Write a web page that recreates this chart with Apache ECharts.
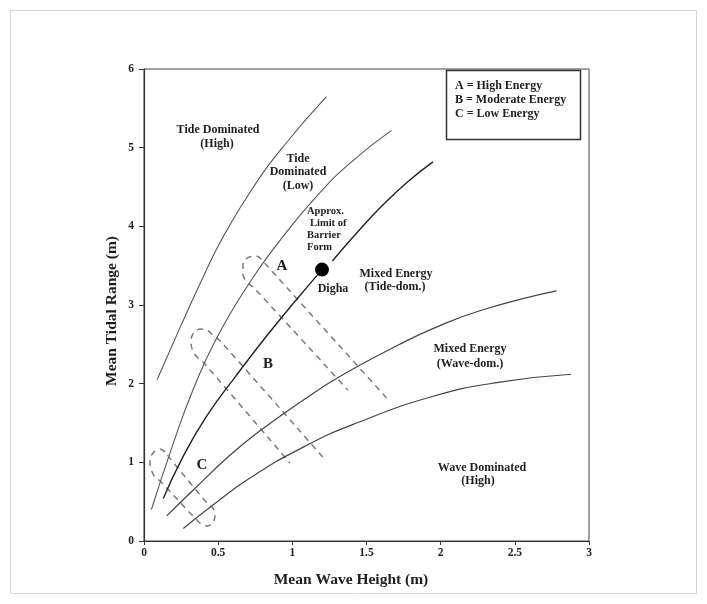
<!DOCTYPE html>
<html>
<head>
<meta charset="utf-8">
<script src="https://cdn.jsdelivr.net/npm/echarts/dist/echarts.min.js"></script>
<style>
html,body{margin:0;padding:0;background:#fff;}
#chart{width:707px;height:604px;}
</style>
</head>
<body>
<div id="chart"></div>
<script>
// ---- data (Mean Wave Height m, Mean Tidal Range m) ----
const xTicks = [0, 0.5, 1, 1.5, 2, 2.5, 3];
const yTicks = [0, 1, 2, 3, 4, 5, 6];

const curveTideHigh = [[0.088,2.05],[0.24,2.70],[0.38,3.28],[0.52,3.82],[0.72,4.45],[0.95,5.04],[1.23,5.65]];
const curveTideLow = [[0.05,0.40],[0.19,1.20],[0.33,1.92],[0.49,2.58],[0.714,3.29],[0.90,3.78],[1.163,4.38],[1.387,4.80],[1.668,5.22]];
const curveBarrierLower = [[0.13,0.54],[0.26,1.06],[0.42,1.58],[0.62,2.10],[0.82,2.59],[1.02,3.05],[1.20,3.45]];
const curveBarrierUpper = [[1.27,3.56],[1.45,3.95],[1.61,4.27],[1.78,4.57],[1.948,4.82]];
const curveMixed = [[0.153,0.32],[0.355,0.69],[0.579,1.09],[0.803,1.43],[1.05,1.76],[1.32,2.09],[1.724,2.50],[1.948,2.70],[2.285,2.94],[2.78,3.18]];
const curveWave = [[0.265,0.16],[0.467,0.46],[0.714,0.80],[1.08,1.20],[1.42,1.49],[1.95,1.84],[2.40,2.02],[2.88,2.12]];

const loopA = [[1.636,1.817],[0.85,3.456],[0.801,3.558],[0.761,3.621],[0.707,3.609],[0.667,3.507],[0.667,3.393],[0.694,3.291],[0.74,3.22],[1.374,1.919]];
const loopB = [[1.205,1.067],[0.51,2.55],[0.465,2.618],[0.424,2.681],[0.377,2.694],[0.330,2.630],[0.316,2.529],[0.330,2.414],[0.364,2.325],[0.41,2.25],[0.983,0.991]];
const loopC = [[0.141,1.131],[0.108,1.169],[0.067,1.131],[0.040,1.029],[0.047,0.915],[0.074,0.813],[0.11,0.76],[0.377,0.229],[0.418,0.191],[0.458,0.216],[0.478,0.318],[0.465,0.419],[0.43,0.47],[0.141,1.131]];

const digha = [[1.20,3.45]];

const legendLines = ['A = High Energy','B = Moderate Energy','C = Low Energy'];

// ---- chart ----
const FONT = '"Liberation Serif","DejaVu Serif",serif';
const chart = echarts.init(document.getElementById('chart'), null, {renderer:'canvas'});

function curve(data, color, width){
  return {type:'line', data:data, smooth:0.5, showSymbol:false, silent:true,
    lineStyle:{color:color, width:width}, z:3};
}
function loop(data){
  return {type:'line', data:data, smooth:0.35, showSymbol:false, silent:true,
    lineStyle:{color:'#7a7a7a', width:1.5, type:[6,5]}, z:2};
}
function txt(x,y,t,size,align){
  return {type:'text', x:x, y:y, silent:true, z:10,
    style:{text:t, font:'bold '+size+'px '+FONT, fill:'#1e1e1e',
      textAlign:align||'center', textVerticalAlign:'middle'}};
}

const option = {
  backgroundColor:'#fff',
  animation:false,
  grid:{left:144, right:118, top:69, bottom:63, show:true, borderColor:'#444', borderWidth:1, backgroundColor:'transparent'},
  xAxis:{type:'value', min:0, max:3, interval:0.5,
    axisLine:{show:true, lineStyle:{color:'#333', width:1.2}},
    axisTick:{show:true, length:4, lineStyle:{color:'#333'}},
    splitLine:{show:false},
    axisLabel:{margin:6, fontFamily:FONT, fontWeight:'bold', fontSize:11.5, color:'#222'}},
  yAxis:{type:'value', min:0, max:6, interval:1,
    axisLine:{show:true, lineStyle:{color:'#333', width:1.2}},
    axisTick:{show:true, length:5, lineStyle:{color:'#333'}},
    splitLine:{show:false},
    axisLabel:{margin:10, fontFamily:FONT, fontWeight:'bold', fontSize:11.5, color:'#222'}},
  series:[
    curve(curveTideHigh,'#555',1.1),
    curve(curveTideLow,'#555',1.1),
    curve(curveBarrierLower,'#222',1.4),
    curve(curveBarrierUpper,'#222',1.4),
    curve(curveMixed,'#444',1.2),
    curve(curveWave,'#444',1.2),
    loop(loopA), loop(loopB), loop(loopC),
    {type:'scatter', data:digha, symbol:'circle', symbolSize:14, itemStyle:{color:'#000', opacity:1}, silent:true, z:5}
  ],
  graphic:[
    {type:'rect', shape:{x:10.5,y:10.5,width:686,height:583}, style:{fill:'none', stroke:'#d8d8d8', lineWidth:1}, silent:true},
    txt(218,130,'Tide Dominated',12), txt(217,143.5,'(High)',12),
    txt(298,158.5,'Tide',12), txt(298,172,'Dominated',12), txt(298,186,'(Low)',12),
    txt(307,211.5,'Approx.',10.5,'left'), txt(310,223.5,'Limit of',10.5,'left'),
    txt(307,235.5,'Barrier',10.5,'left'), txt(307,247,'Form',10.5,'left'),
    txt(282,266,'A',15), txt(333,288.5,'Digha',12),
    txt(396,273.5,'Mixed Energy',12), txt(395,287,'(Tide-dom.)',12),
    txt(268,364,'B',15),
    txt(470,349,'Mixed Energy',12), txt(470,363.5,'(Wave-dom.)',12),
    txt(202,465,'C',15),
    txt(482,468,'Wave Dominated',12), txt(478,481,'(High)',12),
    {type:'rect', shape:{x:446.5,y:70.5,width:134,height:69}, style:{fill:'#fff', stroke:'#333', lineWidth:1.5}, silent:true, z:9},
    txt(455,86,legendLines[0],12,'left'), txt(455,100,legendLines[1],12,'left'), txt(455,113.5,legendLines[2],12,'left'),
    txt(351,580,'Mean Wave Height (m)',15.5),
    {type:'text', x:112, y:311, rotation:Math.PI/2, silent:true, z:10,
      style:{text:'Mean Tidal Range (m)', font:'bold 15.5px '+FONT, fill:'#1e1e1e', textAlign:'center', textVerticalAlign:'middle'}}
  ]
};
chart.setOption(option);
</script>
</body>
</html>
